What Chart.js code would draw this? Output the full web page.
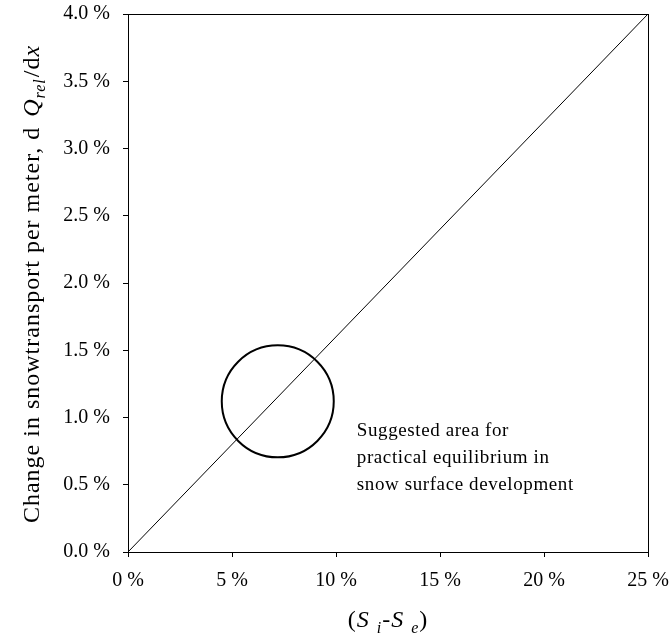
<!DOCTYPE html>
<html>
<head>
<meta charset="utf-8">
<script src="https://cdn.jsdelivr.net/npm/chart.js@4/dist/chart.umd.min.js"></script>
<style>
  html, body { margin: 0; padding: 0; background: #fff; }
  #wrap { width: 671px; height: 643px; position: relative; }
</style>
</head>
<body>
<div id="wrap"><canvas id="chart"></canvas></div>
<script>
// equilibrium line
const lineX = [0, 25];
const lineY = [0, 4];
// suggested area (circle centre)
const circleX = [7.2];
const circleY = [1.12];
// annotation text, one entry per line, with the y value each line sits at
const noteLines = ['Suggested area for', 'practical equilibrium in', 'snow surface development'];
const noteY = [0.9, 0.7, 0.5];
const noteX = 11.0;

const FONT = '"Liberation Serif", "Times New Roman", serif';

// draws outer box, axis titles (with italics/subscripts) and the note text
const extras = {
    id: 'extras',
    afterDraw: (chart) => {
        const ctx = chart.ctx;
        const area = chart.chartArea;
        const xs = chart.scales.x, ys = chart.scales.y;
        ctx.save();
        ctx.strokeStyle = '#000';
        ctx.lineWidth = 1;
        ctx.strokeRect(Math.round(area.left) + 0.5, Math.round(area.top) + 0.5,
            Math.round(area.right - area.left), Math.round(area.bottom - area.top));

        ctx.fillStyle = '#000';
        ctx.textBaseline = 'alphabetic';
        ctx.letterSpacing = '1px';

        // helper: draw a run of pieces, centred on (0,0) horizontally
        const drawRuns = (runs) => {
            const widths = runs.map(r => { ctx.font = r.font; return ctx.measureText(r.t).width + (r.gap || 0); });
            const total = widths.reduce((a, b) => a + b, 0);
            let x = -total / 2;
            runs.forEach((r, i) => {
                ctx.font = r.font;
                ctx.fillText(r.t, x + (r.gap || 0), r.dy || 0);
                x += widths[i];
            });
        };

        // y title
        ctx.save();
        ctx.translate(39, 284);
        ctx.rotate(-Math.PI / 2);
        drawRuns([
            { t: 'Change in snowtransport per meter, d ', font: '24px ' + FONT },
            { t: 'Q', font: 'italic 24px ' + FONT, gap: 3 },
            { t: 'rel', font: 'italic 16px ' + FONT, dy: 6 },
            { t: '/d', font: '24px ' + FONT, gap: 1 },
            { t: 'x', font: 'italic 24px ' + FONT }
        ]);
        ctx.restore();

        // x title
        ctx.save();
        ctx.translate(388, 627);
        drawRuns([
            { t: '(', font: '24px ' + FONT },
            { t: 'S', font: 'italic 24px ' + FONT },
            { t: 'i', font: 'italic 16px ' + FONT, dy: 6, gap: 7 },
            { t: '-', font: '24px ' + FONT },
            { t: 'S', font: 'italic 24px ' + FONT },
            { t: 'e', font: 'italic 16px ' + FONT, dy: 6, gap: 7 },
            { t: ')', font: '24px ' + FONT }
        ]);
        ctx.restore();

        // note
        ctx.font = '19px ' + FONT;
        ctx.letterSpacing = '0.6px';
        ctx.textAlign = 'left';
        ctx.textBaseline = 'middle';
        noteLines.forEach((s, i) => {
            ctx.fillText(s, xs.getPixelForValue(noteX), ys.getPixelForValue(noteY[i]));
        });
        ctx.restore();
    }
};

new Chart(document.getElementById('chart'), {
    type: 'scatter',
    data: {
        datasets: [
            {
                label: 'equilibrium',
                data: lineX.map((x, i) => ({ x, y: lineY[i] })),
                showLine: true,
                borderColor: '#000',
                borderWidth: 1,
                pointRadius: 0,
                fill: false
            },
            {
                label: 'area',
                data: circleX.map((x, i) => ({ x, y: circleY[i] })),
                pointRadius: 56,
                pointHoverRadius: 56,
                pointBorderWidth: 2,
                pointBorderColor: '#000',
                pointBackgroundColor: 'rgba(0,0,0,0)',
                clip: false
            }
        ]
    },
    options: {
        responsive: true,
        maintainAspectRatio: false,
        animation: false,
        events: [],
        layout: { autoPadding: false, padding: { top: 14, right: 23, left: 0, bottom: 0 } },
        plugins: {
            legend: { display: false },
            tooltip: { enabled: false }
        },
        scales: {
            x: {
                type: 'linear',
                min: 0,
                max: 25,
                afterFit: (s) => { s.height = 91; s.paddingLeft = 0; s.paddingRight = 0; },
                ticks: {
                    stepSize: 5,
                    color: '#000',
                    padding: 12,
                    maxRotation: 0,
                    font: { family: FONT, size: 20 },
                    callback: (v) => v + ' %'
                },
                grid: { drawOnChartArea: false, drawTicks: true, tickLength: 5, color: '#000' },
                border: { display: true, color: '#000', width: 1 }
            },
            y: {
                type: 'linear',
                min: 0,
                max: 4,
                afterFit: (s) => { s.width = 128; s.paddingTop = 0; s.paddingBottom = 0; },
                ticks: {
                    stepSize: 0.5,
                    color: '#000',
                    padding: 13,
                    font: { family: FONT, size: 20 },
                    callback: (v) => v.toFixed(1) + ' %'
                },
                grid: { drawOnChartArea: false, drawTicks: true, tickLength: 5, color: '#000' },
                border: { display: true, color: '#000', width: 1 }
            }
        }
    },
    plugins: [extras]
});
</script>
</body>
</html>
